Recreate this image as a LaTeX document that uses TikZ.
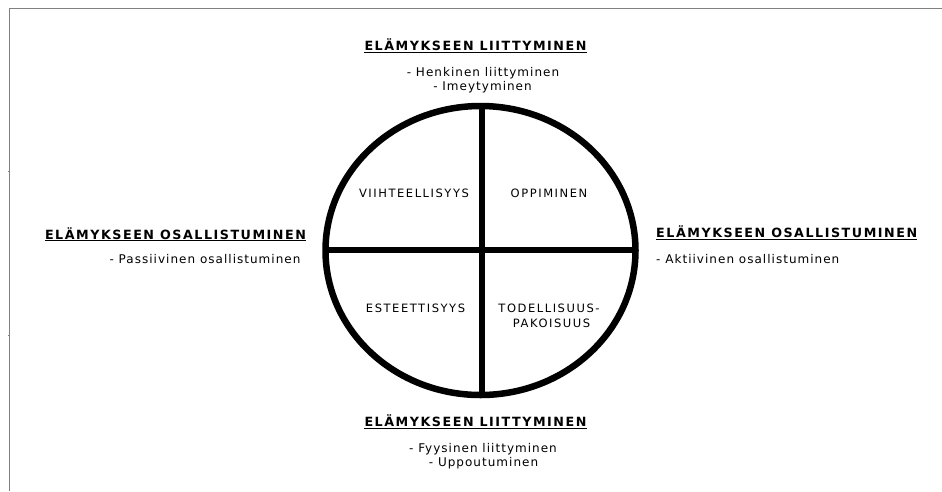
\documentclass[tikz,border=0pt]{standalone}
\usepackage{fontspec}
\setmainfont{DejaVu Sans}
\newfontfamily\headfont[LetterSpace=12]{DejaVu Sans Bold}
\newfontfamily\bodyfont[LetterSpace=8.5]{DejaVu Sans}
\newfontfamily\capsfont[LetterSpace=13.5]{DejaVu Sans}
\definecolor{framegray}{RGB}{128,128,128}
\begin{document}
\begin{tikzpicture}[x=1pt,y=-1pt,
  head/.style={anchor=base, inner sep=0pt, font=\headfont\fontsize{12.7}{14}\selectfont},
  sub/.style={anchor=base, inner sep=0pt, font=\bodyfont\fontsize{12}{13}\selectfont},
  quad/.style={anchor=base, inner sep=0pt, font=\capsfont\fontsize{11.5}{13}\selectfont},
  uline/.style={line width=1.1pt},
  ring/.style={line width=6.5pt},
  cross/.style={line width=6pt},
  frame/.style={draw=framegray, line width=1pt}]
\useasboundingbox (0,0) rectangle (942,491);
\fill[white] (0,0) rectangle (942,491);
% page frame
\draw[frame] (9,491) -- (9,8) -- (942,8);
\draw[frame] (7.5,171.3) -- (9,171.3);
\draw[frame] (7.5,335.3) -- (9,335.3);
% circle and cross
\coordinate (c) at (480.5,250.5);
\coordinate (top) at (482,106);
\coordinate (bot) at (482,395);
\coordinate (lft) at (325.5,249.5);
\coordinate (rgt) at (635.5,249.5);
\draw[cross] (top) -- (bot);
\draw[cross] (lft) -- (rgt);
\draw[ring] (c) ellipse [x radius=155, y radius=144.5];
% top
\node[head] (ht) at (475.5,50.7) {ELÄMYKSEEN LIITTYMINEN};
\draw[uline] ([yshift=-1.8pt]ht.base west) -- ([yshift=-1.8pt]ht.base east);
\node[sub] (ht1) at (483,76.7) {- Henkinen liittyminen};
\node[sub] (ht2) at (482.5,90) {- Imeytyminen};
% bottom
\node[head] (hb) at (475.5,426.7) {ELÄMYKSEEN LIITTYMINEN};
\draw[uline] ([yshift=-1.8pt]hb.base west) -- ([yshift=-1.8pt]hb.base east);
\node[sub] (hb1) at (483,452.7) {- Fyysinen liittyminen};
\node[sub] (hb2) at (483.5,466) {- Uppoutuminen};
% left
\node[head] (hl) at (175.5,239) {ELÄMYKSEEN OSALLISTUMINEN};
\draw[uline] ([yshift=-1.8pt]hl.base west) -- ([yshift=-1.8pt]hl.base east);
\node[sub] (hl1) at (205,263.3) {- Passiivinen osallistuminen};
% right
\node[head, anchor=base west] (hr) at (656,237.5) {ELÄMYKSEEN OSALLISTUMINEN};
\draw[uline] ([yshift=-1.8pt]hr.base west) -- ([yshift=-1.8pt]hr.base east);
\node[sub, anchor=base west] (hr1) at (656,263.3) {- Aktiivinen osallistuminen};
% quadrants
\node[quad] (q1) at (414,197.7) {VIIHTEELLISYYS};
\node[quad] (q2) at (549,197.7) {OPPIMINEN};
\node[quad] (q3) at (415.5,312.7) {ESTEETTISYYS};
\node[quad] (q4a) at (549,312.7) {TODELLISUUS-};
\node[quad] (q4b) at (551.5,327.3) {PAKOISUUS};
\end{tikzpicture}
\end{document}
